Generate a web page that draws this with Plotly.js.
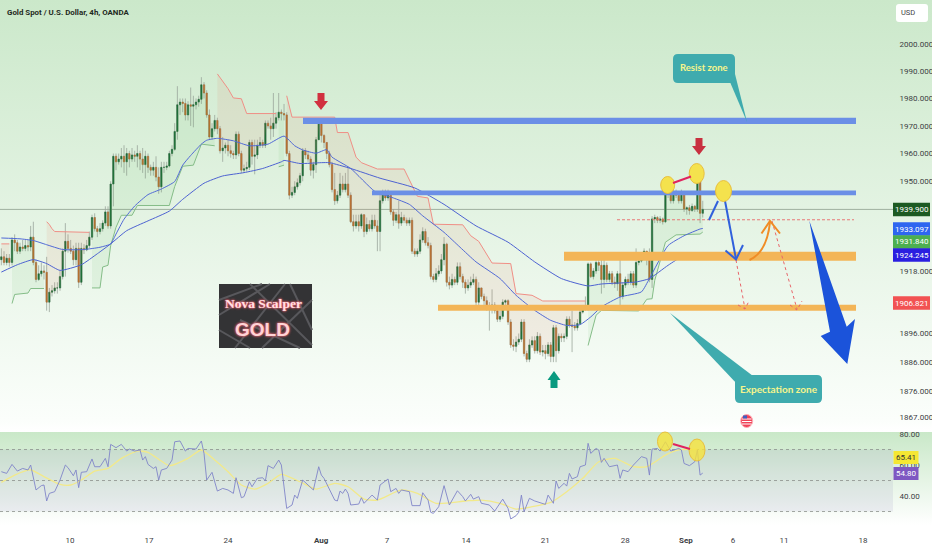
<!DOCTYPE html>
<html><head><meta charset="utf-8">
<script src="https://cdn.plot.ly/plotly-3.0.0.min.js"></script>
<style>
html,body{margin:0;padding:0;background:#fff}
#bg{position:absolute;left:0;top:0;width:932px;height:550px;
background:linear-gradient(to bottom,#cbe8ca 0px,#fbfefb 420px,#ffffff 431px,#ffffff 431.5px,#c9e8c8 432px,#ffffff 525px,#ffffff 550px)}
#c{position:absolute;left:0;top:0;width:932px;height:550px}
</style></head><body><div id="bg"></div><div id="c"></div>
<script>
const firstOpen = 1922;
const closes = [
1923,1921,1922.5,1921,1929,1928,1925,1926.5,1926,1927,
1926.5,1930,1921,1915,1917,1918,1917.5,1907,1910.5,1911,
1912,1912,1916,1925,1928.5,1926,1925,1922,1926,1914,
1926,1925.5,1927,1930,1937,1933,1932,1933,1935,1939,
1934,1949,1959,1957,1958,1959,1957,1960,1958,1959.5,
1959,1960,1958,1956,1959,1955,1954,1955,1951.5,1948,
1955,1955,1955.5,1960,1961.5,1968,1977.7,1978.7,1978.2,1974,
1977.7,1977.2,1977.7,1978.7,1979.7,1985,1982,1974,1966,1969,
1972,1969,1961,1962,1963,1961,1960,1959.5,1967,1960,
1954,1954.5,1955,1964,1959,1959.5,1963,1964,1963,1971,
1970,1969,1971,1973,1975,1974.5,1974,1960,1945,1946,
1948,1949.5,1952,1961,1959.5,1958,1954,1956,1965,1971.5,
1966.5,1964,1960,1956,1947,1943,1945,1949,1947,1949,
1945,1935.5,1934,1935.5,1934,1938,1932,1934.5,1933,1936,
1934,1932,1943,1946,1944,1945,1939,1936,1938,1935,
1937,1936,1935,1936,1925,1924,1925,1929,1932,1928,
1927,1916,1915,1917,1918,1922,1927.5,1914,1913,1915,
1914,1919.5,1916,1914,1912,1913,1914,1915,1907,1912,
1909,1907.5,1905.5,1904.5,1906,1904,1901,1902,1907,1907.5,
1900,1892,1891.5,1893,1894,1900,1889,1887,1892,1893.5,
1890,1895,1889.5,1890,1889,1892,1888,1898,1890,1895,
1894.5,1895,1901,1899,1898.5,1898,1899.5,1903.5,1905,1905,
1920.5,1916,1918,1921,1920,1915,1920,1915,1917,1914,
1913.5,1917,1909,1913,1915,1914,1917,1913,1921,1921.5,
1923,1925,1924,1915,1936.5,1937,1936,1936.5,1935.5,1945.5,
1949,1943,1946,1945,1943,1946,1940,1940.5,1939.5,1941,
1940,1953,1938.5,1939.9];
const highs = [
1926,1925,1924,1924,1930,1931,1929,1928,1929,1929,
1929,1934,1935.5,1922,1920,1921,1920,1923,1912,1913,
1914,1914,1918,1926,1935,1931,1929,1927,1928,1928,
1928,1927.5,1929,1932,1938,1938.5,1934,1935,1936,1941,
1941,1950,1960,1960,1960,1962,1963,1962,1961,1962,
1961,1963,1961,1962,1961,1960,1956,1957,1959,1955,
1957,1957,1957,1961,1963,1971,1984.5,1980,1980,1980,
1979,1984,1981,1980,1981,1987.8,1986,1983,1976,1971,
1974,1973,1970,1966,1964,1965,1963,1961,1968,1968,
1961,1956,1957,1965,1965,1965,1965,1966,1965,1972,
1972,1973,1982,1975,1982,1976,1978,1975,1961,1948,
1950,1951,1953,1962,1962,1961,1959,1957,1966,1972,
1972,1967,1963,1961,1957,1953,1946.5,1953,1952,1953,
1955,1946,1938,1938,1938,1938.5,1938,1937,1936,1938,
1938,1936,1946,1947,1947,1947,1946,1940,1939,1943,
1939,1938,1937,1937,1937,1926,1926,1931,1933.5,1933,
1930,1928,1917,1919,1920,1924,1930,1928,1916,1917,
1916,1921,1921,1917,1915,1915,1916,1917,1916,1914,
1912,1910,1909,1907,1911.5,1907,1905,1904,1908,1908,
1908,1901,1894,1895,1896,1901,1901,1890,1894,1895,
1895,1896.5,1896,1892,1892,1893,1893,1899,1899,1896,
1896,1896,1902,1902,1904,1900,1901,1905,1906,1909,
1921,1921,1919,1923,1923.5,1922,1923.5,1921,1918,1918,
1916,1918,1923,1914,1916,1917,1918,1918,1926,1923,
1924.5,1926,1925,1926,1937.5,1938,1937.5,1937.5,1937,1948,
1949.5,1949,1947,1947,1946,1947,1946.5,1941,1941.5,1942,
1941.5,1954,1952.5,1943];
const lows = [
1920,1920,1920,1919.5,1920,1925,1924,1924,1925,1925,
1925,1925,1920,1914,1914.5,1916,1915,1904,1903.5,1909,
1910,1910,1911,1915,1916,1924.5,1924,1920,1920,1912,
1913,1924,1925,1926,1929,1932,1930,1931,1932,1934,
1933,1933,1941,1954,1956,1955,1953,1952,1955,1957,
1957,1955,1954,1953,1951,1953,1952,1952,1950,1945.5,
1946,1953,1954,1955,1959,1961,1965,1974,1975,1972,
1972,1970,1969.5,1976,1977,1978,1980,1973,1965,1965,
1968,1967,1960,1957,1960,1959,1958.5,1958,1958,1959,
1953,1953,1953.5,1954,1956,1952.5,1958,1962,1962,1962,
1969,1965,1966,1969,1972,1972,1972,1959,1943.5,1944,
1945,1947,1948.5,1950,1958,1957,1952,1951,1953,1965,
1964,1962,1958,1955,1946,1941.5,1942,1944,1946,1946,
1944,1935,1932,1933,1932,1933,1930,1931,1932,1932,
1933,1925,1925,1942,1943,1943,1938,1934,1935,1933,
1934,1935,1934,1934,1924,1923,1923,1924,1928,1927,
1926,1915,1914,1914,1916,1917,1920,1912.5,1911.5,1912,
1913,1913,1915,1912,1910,1911,1912,1913,1905,1906,
1908,1906,1904,1897,1903,1903,1900,1900,1901,1906,
1899,1891,1890,1889.5,1892,1893,1888,1886,1886,1891,
1889,1889,1888.5,1888,1887,1888,1886,1886,1886,1889,
1893,1893,1894,1898,1889.5,1897,1897,1899,1903,1904,
1904,1915.5,1915,1917,1918,1910,1912,1914,1914,1913,
1912,1911,1904,1908,1912,1913,1913,1912,1912,1920,
1921,1922,1920,1914,1912,1935,1935,1935,1934.5,1935,
1944,1942,1942,1944,1942,1942,1939,1938,1938,1939,
1939,1939,1935,1937];

const fastIdx = [0,7,12,17,23,31,37,41,43,46,50,55,60,65,68,71,75,77,81,87,93,100,106,110,113,118,122,124,131,140,147,153,158,166,172,178,187,193,200,206,212,217,221,225,232,240,243,250,256,262,263];
const fastVal = [1929.7,1929.4,1928.8,1927.3,1925.6,1925.6,1926.4,1927.6,1931.1,1936.4,1941.1,1945.2,1947.2,1949.9,1955.8,1959.3,1963.4,1964.8,1965.5,1964.6,1962.8,1963.4,1966.3,1962.8,1961.3,1960.1,1961.4,1958.7,1954.6,1946.4,1944,1941.7,1937.6,1931.7,1926.4,1921.2,1915.3,1909.4,1904.1,1900.6,1898.8,1899.1,1901.8,1905.3,1908.8,1910.6,1915.3,1927,1930.5,1932.9,1933.1];
const slowIdx = [0,6,12,17,22,30,36,41,47,55,63,68,76,83,91,98,105,106,112,120,123,131,142,155,166,178,190,200,210,220,225,238,243,250,256,263];
const slowVal = [1917.6,1920.2,1922,1920.6,1918.2,1920.2,1924.1,1927.6,1932.3,1935.8,1939.3,1943.5,1949.3,1951.9,1953.1,1954.6,1957,1957.5,1956.4,1956.7,1956.7,1954.6,1951.1,1947.6,1941.7,1934,1928.2,1921.2,1915.3,1912.7,1913.4,1914.1,1915.3,1920,1923.5,1924.2];

const redAIdx = [0,3], redAVal = [1927.6,1927.6];
const greenAIdx = [4,5,10,11,16], greenAVal = [1906.5,1909.7,1910.2,1911.8,1911.8];
const redBIdx = [17,18,19,20,33], redBVal = [1935.5,1934.5,1933,1932,1931.7];
const greenBIdx = [34,37,38,40,41,43,45,49,51,63,65,68,72,75,80], greenBVal = [1912,1912,1919.4,1920,1927,1933.5,1937.8,1937.8,1941.3,1941.3,1948.1,1955.4,1955.8,1963.4,1962.8];
const redCIdx = [81,85,87,90,92,103], redCVal = [1989,1983.6,1980.2,1979.9,1974.5,1974.5];
const greenCIdx = [104,106], greenCVal = [1955.2,1955.8];
const redDIdx = [107,109,125,126,130,133,135,141,151,156,160,162,173,176,179,184,191,193,199,203,219];
const redDVal = [1981,1973.2,1973.2,1967.6,1967.6,1958.7,1956.7,1954.4,1954.4,1944.6,1944,1934.6,1934.4,1930.5,1928.5,1920.8,1920.6,1910,1909.4,1907.4,1907.4];
const greenDIdx = [220,223,225,239,242,244,245,249,253,262,263];
const greenDVal = [1891.8,1902.4,1904.1,1903.9,1908,1908.2,1914.7,1928.2,1930.8,1931.1,1931.8];

const rsiIdx = [0,2,4,6,8,10,11,13,15,16,17,18,20,22,24,25,27,28,29,30,32,34,35,37,39,40,41,43,45,47,48,50,52,53,54,55,57,58,59,60,62,64,65,67,69,70,73,75,76,77,79,81,83,85,87,88,90,91,93,94,96,98,99,100,102,103,104,105,107,109,110,111,113,115,117,119,120,121,125,126,127,128,129,130,131,134,135,136,139,141,142,145,146,148,149,150,153,154,157,158,160,161,162,164,166,168,169,171,173,174,176,177,179,180,183,185,188,190,191,193,194,195,196,198,200,204,205,207,208,209,211,212,213,214,216,217,219,220,221,223,224,225,226,228,231,232,233,235,237,239,240,242,243,244,246,247,249,251,254,255,256,258,260,261,262,263];
const rsiVal = [55.7,54.6,60.4,56.1,57.8,56.8,60,43.9,46.7,47.1,36.8,41.7,42.8,50.3,60,58.3,53.1,56.8,45.4,55.3,55.7,63.9,58.9,58.9,64.3,58.9,73.3,71.2,73.3,69,70.3,69,69.7,63.2,65.4,60.4,57.8,58.9,50.3,56.8,57.8,63.2,75,75.5,69,70.7,70.3,75.5,67.5,50.3,55.3,43.2,44.9,43.9,41.7,51.8,38.9,39.6,49.2,46,51.4,51.8,49.7,59.6,57.8,61,63.2,60,32,34.2,40.6,38.5,50.3,47.1,43.9,58.9,53.5,51.4,37.4,36.8,43.2,41.7,44.5,41.7,34.2,34.8,38.9,35.3,40.6,37.4,47.1,51,42.8,44.9,41.7,43.9,42.8,33.8,33.8,42.1,37.4,29.5,28.8,33.1,46.7,34.2,37.4,43.4,39.6,36.8,41.1,38,39.6,35.3,34.2,30.3,38,32,25.2,27.3,29.5,40.6,29.9,38.5,36.8,34.6,40.6,35.3,49.7,44.9,48.2,46.4,54.6,51,52.5,58.9,60,74,67.5,70.7,69.7,61.7,64.3,58.9,60,51.4,56.8,55.7,60,63.2,65.4,64.3,53.5,70.3,70.7,69,75,69,70.7,69.7,61,59.6,62.1,69.7,53.5,54.8];
const rsiMaIdx = [0,5,11,16,22,26,30,35,40,45,51,55,60,63,70,75,80,85,90,95,100,105,112,118,125,130,136,141,150,156,163,174,180,187,193,199,206,212,218,224,230,237,242,249,254,261];
const rsiMaVal = [48.8,53.5,56.8,52.5,47.5,47.1,50.3,56.1,57.8,64.3,69,68.2,62.6,59.6,64.3,69.7,63.2,55.7,47.1,44.5,48.2,54,49.2,44.5,48.2,46,38,37.4,43.9,41.7,35.3,36.8,37.4,35.3,31.6,33.1,35.9,42.8,51.4,62.1,64.3,58.9,58.9,66.4,69.7,70.3];

const xTickIdx = [25.75,55.4,85,119.9,144.6,174.2,203.9,233.9,256.7,274.3,293.5,323.1];
const xTickText = ['10','17','24','<b>Aug</b>','7','14','21','28','<b>Sep</b>','6','11','18'];
const priceTicks = [2000,1990,1980,1970,1960,1950,1918,1896,1886,1876,1867];
const rsiTicks = [80,60,40];
const rsiTickText = ['80.00','60.00','40.00'];
const lastPrice = 1939.9;
const zoneBlueTop = [1973,1970.7], zoneBlueMid = [1946.7,1945], zoneOrangeHi = [1924.8,1921.6], zoneOrangeLo = [1906.1,1904];
const levelDashed = 1936.2;

const opens = closes.map((c,i)=> i ? closes[i-1] : firstOpen);
const idx = closes.map((_,i)=>i);
const PXW = 893;
const X = p => p/PXW, Y = p => 1-p/550;
const AXF = 'Roboto,sans-serif';
const pToI = p => p/2.667-0.5;

const traces = [];
function trend(ix, vals, isRed){
  const a = ix[0], b = ix[ix.length-1];
  const bx=[],by=[];
  for(let i=a;i<=b;i++){bx.push(i);by.push((opens[i]+closes[i])/2);}
  traces.push({type:'scatter',mode:'lines',x:bx,y:by,line:{width:0},hoverinfo:'skip',showlegend:false});
  traces.push({type:'scatter',mode:'lines',x:ix,y:vals,fill:'tonexty',
    fillcolor:isRed?'rgba(226,120,90,0.10)':'rgba(76,175,80,0.08)',
    line:{color:isRed?'#f08f86':'#85bd88',width:1},hoverinfo:'skip',showlegend:false});
}
trend(redAIdx,redAVal,true);trend(greenAIdx,greenAVal,false);trend(redBIdx,redBVal,true);
trend(greenBIdx,greenBVal,false);trend(redCIdx,redCVal,true);trend(greenCIdx,greenCVal,false);
trend(redDIdx,redDVal,true);trend(greenDIdx,greenDVal,false);

traces.push({type:'candlestick',x:idx,open:opens,high:highs,low:lows,close:closes,
  increasing:{line:{color:'#99a59a',width:0.8},fillcolor:'#99a59a'},
  decreasing:{line:{color:'#99a59a',width:0.8},fillcolor:'#99a59a'},
  whiskerwidth:0,hoverinfo:'skip',showlegend:false});
traces.push({type:'candlestick',x:idx,open:opens,close:closes,
  high:opens.map((o,i)=>Math.max(o,closes[i])),low:opens.map((o,i)=>Math.min(o,closes[i])),
  increasing:{line:{color:'#1f6e38',width:0.4},fillcolor:'#1f6e38'},
  decreasing:{line:{color:'#b5702f',width:0.4},fillcolor:'#b5702f'},
  whiskerwidth:0,hoverinfo:'skip',showlegend:false});

traces.push({type:'scatter',mode:'lines',x:fastIdx,y:fastVal,line:{color:'#5169d6',width:1,shape:'spline',smoothing:0.5},hoverinfo:'skip',showlegend:false});
traces.push({type:'scatter',mode:'lines',x:slowIdx,y:slowVal,line:{color:'#4d62d2',width:1,shape:'spline',smoothing:0.5},hoverinfo:'skip',showlegend:false});

traces.push({type:'scatter',mode:'lines',x:rsiMaIdx,y:rsiMaVal,yaxis:'y2',line:{color:'#f2e98a',width:1.3,shape:'spline',smoothing:0.6},hoverinfo:'skip',showlegend:false});
traces.push({type:'scatter',mode:'lines',x:rsiIdx,y:rsiVal,yaxis:'y2',line:{color:'#8084c8',width:0.9},hoverinfo:'skip',showlegend:false});

const s = [];
function zone(pxA,pxB,v,color){
  s.push({type:'rect',layer:'above',xref:'x',yref:'y',x0:pToI(pxA),x1:pToI(pxB),y0:v[0],y1:v[1],fillcolor:color,line:{width:0}});
}
s.push({type:'rect',layer:'below',xref:'x',yref:'y2',x0:pToI(0),x1:pToI(893),y0:70,y1:30,fillcolor:'rgba(110,100,170,0.10)',line:{width:0}});
[70,50,30].forEach(v=>s.push({type:'line',layer:'below',xref:'x',yref:'y2',x0:pToI(0),x1:pToI(893),y0:v,y1:v,line:{color:'#8a8f8a',width:0.8,dash:'3px,3px'}}));
s.push({type:'line',layer:'below',xref:'x',yref:'y',x0:pToI(0),x1:pToI(893),y0:lastPrice,y1:lastPrice,line:{color:'#9fb09f',width:1}});

zone(303,856,zoneBlueTop,'#6b8fe6');
zone(372,856,zoneBlueMid,'#6b8fe6');
zone(564,856,zoneOrangeHi,'#f3b557');
zone(438,856,zoneOrangeLo,'#f3b557');
s.push({type:'line',layer:'above',xref:'x',yref:'y',x0:pToI(617),x1:pToI(854),y0:levelDashed,y1:levelDashed,line:{color:'#e86a6a',width:0.9,dash:'3px,2px'}});

function path(d,fill,lineColor,w,dash){
  let out='';
  d.forEach(seg=>{ out+=seg[0]+' '+seg.slice(1).map((v,k)=>k%2?Y(v):X(v)).join(' ')+' '; });
  if(fill) out+='Z';
  s.push({type:'path',layer:'above',xref:'paper',yref:'paper',path:out,fillcolor:fill||'rgba(0,0,0,0)',
    line:{color:lineColor||'rgba(0,0,0,0)',width:w===undefined?0:w,dash:dash||'solid'}});
}
function ell(cx,cy,rx,ry,fill,lc,w){
  s.push({type:'circle',layer:'above',xref:'paper',yref:'paper',x0:X(cx-rx),x1:X(cx+rx),y0:Y(cy+ry),y1:Y(cy-ry),fillcolor:fill,line:{color:lc,width:w}});
}
function rect(x0,y0,x1,y1,fill){
  s.push({type:'rect',layer:'above',xref:'paper',yref:'paper',x0:X(x0),x1:X(x1),y0:Y(y1),y1:Y(y0),fillcolor:fill,line:{width:0}});
}
function roundBox(x0,y0,x1,y1,r,fill){
  path([['M',x0+r,y0],['L',x1-r,y0],['Q',x1,y0,x1,y0+r],['L',x1,y1-r],['Q',x1,y1,x1-r,y1],['L',x0+r,y1],['Q',x0,y1,x0,y1-r],['L',x0,y0+r],['Q',x0,y0,x0+r,y0]],fill);
}
const TEAL='#3fabae';
path([['M',730,82],['L',735,74],['L',747,122]],TEAL);
roundBox(673,54,735,83,5,TEAL);
path([['M',670,313],['L',738,385],['L',753,376]],TEAL);
roundBox(735,375,822,403,5,TEAL);

function downArrow(x,y0,y1,c){path([['M',x-3.5,y0],['L',x+3.5,y0],['L',x+3.5,y0+8],['L',x+7,y0+8],['L',x,y1],['L',x-7,y0+8],['L',x-3.5,y0+8]],c);}
function upArrow(x,y0,y1,c){path([['M',x-3.5,y1],['L',x+3.5,y1],['L',x+3.5,y1-8],['L',x+6.5,y1-8],['L',x,y0],['L',x-6.5,y1-8],['L',x-3.5,y1-8]],c);}
downArrow(321,93,110,'#d1303f');
downArrow(699,138,155,'#c8303f');
upArrow(554,371,388,'#0a9a80');

const RD='#e8656a';
path([['M',736,260],['L',745,309]],null,RD,1,'dot');
path([['M',738,305],['L',745,309],['L',748.5,302]],null,RD,1,'dot');
path([['M',772,221],['L',797,309]],null,RD,1,'dot');
path([['M',790,305],['L',797,310],['L',802,301]],null,RD,1,'dot');

const BL='#3060dc';
path([['M',709,220],['L',718,201]],null,BL,2);
path([['M',725,201],['L',736,259]],null,BL,2);
path([['M',725.5,250.5],['L',736,259.5],['L',743,245]],null,BL,2);
const OR='#f08c25';
path([['M',749.5,260],['Q',767,252,770,222]],null,OR,2);
path([['M',761.5,233.5],['L',770,221],['L',780,233.5]],null,OR,2);
path([['M',809.3,220.7],['L',846.7,326.7],['L',855,319],['L',847.3,364],['L',820.7,336],['L',830,331.7]],'#1b53da');

const YF='#f4e24d',YL='#e8bf3e';
ell(667.7,185,7,8.5,YF,YL,1);
ell(696.7,173.5,7.5,10,YF,YL,1);
ell(723.5,191,8,10.5,YF,YL,1);
path([['M',673,183],['L',691,176.5]],null,'#e0245e',2);
ell(665,441.5,7.5,9.5,'rgba(246,226,60,0.8)',YL,1);
ell(697,450,8,11,'rgba(246,226,60,0.8)',YL,1);
path([['M',673,444],['L',690,449]],null,'#e0245e',2);

ell(746.7,421,6,6.5,'#f04358','#ffb0b8',1);
rect(742,418.5,751.5,419.5,'#ffffff');rect(742,421,751.5,422,'#ffffff');rect(742,423.5,751.5,424.5,'#ffffff');
rect(743,415.5,747,418.5,'#3f5fc0');

rect(219,284,312,348,'#333335');
[[219,300,262,284],[235,348,285,284],[262,348,312,300],[219,330,250,348],[290,284,312,330],[240,320,300,348],[219,315,270,284],[250,284,312,345]].forEach(l=>{
  path([['M',l[0],l[1]],['L',l[2],l[3]]],null,'#58585c',2);
});

const chips=[[209.5,'#1c5a22','1939.900','#ffffff'],[229,'#2e66f0','1933.097','#ffffff'],[242,'#4caf50','1931.840','#ffffff'],[255,'#2a1fe0','1924.245','#ffffff'],[303,'#f25252','1906.821','#ffffff']];
const ann=[];
chips.forEach(c=>{
  rect(893,c[0]-6.7,930,c[0]+6.7,c[1]);
  ann.push({xref:'paper',yref:'paper',x:X(911.5),y:Y(c[0]),text:c[2],showarrow:false,font:{family:AXF,size:8,color:c[3]},xanchor:'center',yanchor:'middle'});
});
rect(893.5,451,918.5,464,'#f5e733');
rect(893.5,467,918.5,480,'#7e57c2');
ann.push({xref:'paper',yref:'paper',x:X(906),y:Y(457.5),text:'65.41',showarrow:false,font:{family:AXF,size:8,color:'#333'},xanchor:'center',yanchor:'middle'});
ann.push({xref:'paper',yref:'paper',x:X(906),y:Y(473.7),text:'54.80',showarrow:false,font:{family:AXF,size:8,color:'#fff'},xanchor:'center',yanchor:'middle'});
roundBox(896,4,928,22,3,'#ffffff');
ann.push({xref:'paper',yref:'paper',x:X(907.5),y:Y(12.5),text:'USD',showarrow:false,font:{family:AXF,size:7.5,color:'#444'},xanchor:'center',yanchor:'middle'});
ann.push({xref:'paper',yref:'paper',x:X(4.5),y:Y(12.5),text:'<b>Gold Spot / U.S. Dollar, 4h, OANDA</b>',showarrow:false,font:{family:'Roboto,sans-serif',size:7.9,color:'#1f2a22'},xanchor:'left',yanchor:'middle'});
ann.push({xref:'paper',yref:'paper',x:X(704),y:Y(67.5),text:'<b>Resist zone</b>',showarrow:false,font:{family:'Lato,sans-serif',size:9.5,color:'#f6f58c'},xanchor:'center',yanchor:'middle'});
ann.push({xref:'paper',yref:'paper',x:X(778.5),y:Y(388.5),text:'<b>Expectation zone</b>',showarrow:false,font:{family:'Lato,sans-serif',size:10,color:'#f6f58c'},xanchor:'center',yanchor:'middle'});
ann.push({xref:'paper',yref:'paper',x:X(263),y:Y(303),text:'<b>Nova Scalper</b>',showarrow:false,font:{family:'"Liberation Serif",serif',size:13.5,color:'#ffe0e3',shadow:'0 0 1px #f0606e, 0 0 2px #f0606e, 0 0 3px #f0606e'},xanchor:'center',yanchor:'middle'});
ann.push({xref:'paper',yref:'paper',x:X(262.5),y:Y(329),text:'<b>GOLD</b>',showarrow:false,font:{family:'"Liberation Sans",sans-serif',size:19,color:'#ffd3d6',shadow:'0 0 2px #e8606e, 0 0 3px #e8606e'},xanchor:'center',yanchor:'middle'});

const lay = {
  width:932,height:550,margin:{l:0,r:39,t:0,b:0,pad:0},
  paper_bgcolor:'rgba(0,0,0,0)',plot_bgcolor:'rgba(0,0,0,0)',showlegend:false,
  xaxis:{type:'linear',range:[pToI(0),pToI(893)],anchor:'y2',tickmode:'array',tickvals:xTickIdx,ticktext:xTickText,
    showgrid:false,zeroline:false,showline:false,ticks:'outside',ticklen:7,tickcolor:'rgba(0,0,0,0)',
    tickfont:{family:AXF,size:8,color:'#3c4043'},rangeslider:{visible:false},fixedrange:true},
  yaxis:{type:'log',domain:[1-431/550,1],range:[Math.log10(1862.2),Math.log10(2016.3)],side:'right',anchor:'x',
    tickmode:'array',tickvals:priceTicks,ticktext:priceTicks.map(v=>v.toFixed(3)),showgrid:false,zeroline:false,showline:false,
    ticks:'outside',ticklen:4,tickcolor:'rgba(0,0,0,0)',tickfont:{family:AXF,size:8,color:'#3c4043'},fixedrange:true},
  yaxis2:{type:'linear',domain:[1-525/550,1-432/550],range:[21.3,81.3],side:'right',anchor:'x',
    tickmode:'array',tickvals:rsiTicks,ticktext:rsiTickText,showgrid:false,zeroline:false,showline:false,
    ticks:'outside',ticklen:4,tickcolor:'rgba(0,0,0,0)',tickfont:{family:AXF,size:8,color:'#3c4043'},fixedrange:true},
  shapes:s,annotations:ann
};
Plotly.newPlot('c',traces,lay,{displayModeBar:false,staticPlot:true});
</script></body></html>
